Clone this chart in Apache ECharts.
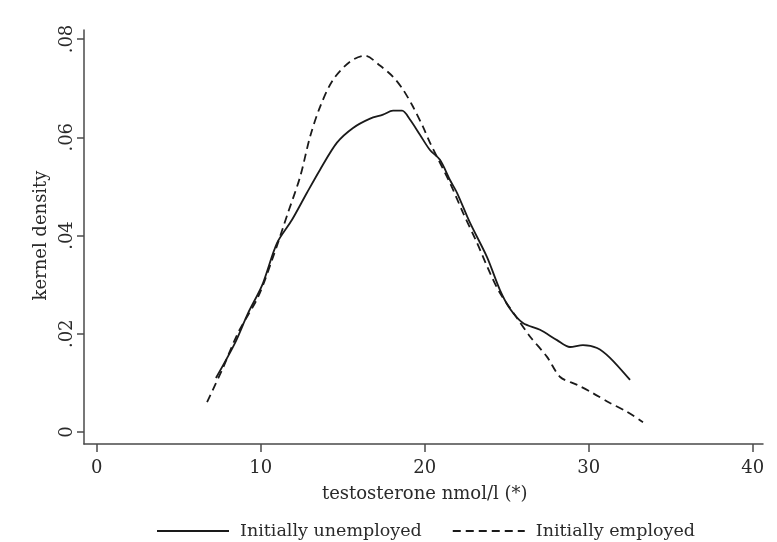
<!DOCTYPE html>
<html>
<head>
<meta charset="utf-8">
<script src="https://cdn.jsdelivr.net/npm/echarts@6/dist/echarts.min.js"></script>
<style>html,body{margin:0;padding:0;background:#fff;}#c{width:777px;height:542px;}</style>
</head>
<body>
<div id="c"></div>
<script>
var unemployedX = [7.27, 8.43, 9.23, 10.09, 11.0, 11.91, 12.82, 13.62, 14.65, 15.63, 16.67, 17.46, 18.07, 18.62, 19.10, 19.71, 20.32, 20.93, 21.54, 21.97, 22.76, 23.80, 24.59, 25.2, 25.99, 27.03, 28.07, 28.86, 29.65, 30.51, 31.30, 32.52];
var unemployedY = [0.0110, 0.0181, 0.0242, 0.0299, 0.0385, 0.0432, 0.0487, 0.0534, 0.0589, 0.0619, 0.0638, 0.0646, 0.0654, 0.0654, 0.0636, 0.0605, 0.0574, 0.0554, 0.0513, 0.0487, 0.0426, 0.0356, 0.0289, 0.0251, 0.0222, 0.0208, 0.0187, 0.0173, 0.0177, 0.0171, 0.0151, 0.0106];
var employedX = [6.73, 7.64, 8.62, 9.84, 10.69, 11.66, 12.40, 13.01, 13.62, 14.41, 15.45, 16.36, 17.27, 18.07, 18.68, 19.29, 19.90, 20.32, 21.54, 22.34, 23.19, 23.98, 24.59, 25.63, 26.43, 27.46, 28.26, 29.30, 30.26, 31.30, 32.34, 33.31];
var employedY = [0.0061, 0.0126, 0.0202, 0.0275, 0.0350, 0.0446, 0.0519, 0.0601, 0.0662, 0.0717, 0.0754, 0.0766, 0.0746, 0.0723, 0.0697, 0.0662, 0.0621, 0.0589, 0.0507, 0.0446, 0.0385, 0.0324, 0.0283, 0.0232, 0.0194, 0.0153, 0.0112, 0.0096, 0.0079, 0.0059, 0.0041, 0.0020];
var xTicks = [0, 10, 20, 30, 40];
var yTicks = [0, 0.02, 0.04, 0.06, 0.08];
var yTickLabels = ['0', '.02', '.04', '.06', '.08'];
var seriesNames = ['Initially unemployed', 'Initially employed'];

function pairs(xs, ys) { return xs.map(function (x, i) { return [x, ys[i]]; }); }

var font = 'DejaVu Serif';
var textCol = '#2a2a2a';
var axisCol = '#4a4a4a';
var xMin = xTicks[0], xMax = xTicks[xTicks.length - 1], xStep = xTicks[1] - xTicks[0];
var yMin = yTicks[0], yMax = yTicks[yTicks.length - 1], yStep = yTicks[1] - yTicks[0];
var hiddenAxis = function (g) { return {gridIndex: g, type: 'value', show: false, min: 0, max: 1}; };
var tickLine = {show: true, showMinLine: true, showMaxLine: true, lineStyle: {color: axisCol, width: 1.5, type: 'solid'}};

var chart = echarts.init(document.getElementById('c'), null, {renderer: 'canvas'});
chart.setOption({
  backgroundColor: '#fff',
  animation: false,
  grid: [
    {left: 96.7, right: 24.3, top: 39, bottom: 110, containLabel: false},   // data area
    {left: 84, right: 14, top: 30, bottom: 98, containLabel: false},        // axis frame lines
    {left: 96.7, right: 24.3, top: 444, bottom: 90, containLabel: false},   // x tick marks
    {left: 77, right: 693, top: 39, bottom: 110, containLabel: false}       // y tick marks
  ],
  legend: {
    data: seriesNames,
    top: 517,
    left: 151,
    itemWidth: 72,
    itemHeight: 14,
    itemGap: 30,
    textStyle: {fontFamily: font, fontSize: 17.5, color: textCol, padding: [0, 0, 0, 6]},
    itemStyle: {opacity: 0}
  },
  xAxis: [
    {
      gridIndex: 0, type: 'value', min: xMin, max: xMax, interval: xStep, offset: 12,
      name: 'testosterone nmol/l (*)', nameLocation: 'middle', nameGap: 41,
      nameTextStyle: {fontFamily: font, fontSize: 18, color: textCol},
      axisLine: {show: false, onZero: false},
      axisTick: {show: false},
      axisLabel: {fontFamily: font, fontSize: 18, color: textCol, margin: 15},
      splitLine: {show: false}
    },
    {
      gridIndex: 1, type: 'value', min: 0, max: 1,
      axisLine: {show: true, onZero: false, lineStyle: {color: axisCol, width: 1.5}},
      axisTick: {show: false}, axisLabel: {show: false}, splitLine: {show: false}
    },
    {
      gridIndex: 2, type: 'value', min: xMin, max: xMax, interval: xStep,
      axisLine: {show: false, onZero: false}, axisTick: {show: false}, axisLabel: {show: false},
      splitLine: tickLine
    },
    hiddenAxis(3)
  ],
  yAxis: [
    {
      gridIndex: 0, type: 'value', min: yMin, max: yMax, interval: yStep, offset: 12.7,
      name: 'kernel density', nameLocation: 'middle', nameGap: 27,
      nameTextStyle: {fontFamily: font, fontSize: 18, color: textCol},
      axisLine: {show: false, onZero: false},
      axisTick: {show: false},
      axisLabel: {rotate: 90, fontFamily: font, fontSize: 18, color: textCol, margin: 8,
        formatter: function (v) { var i = yTicks.findIndex(function (t) { return Math.abs(t - v) < 1e-9; }); return i >= 0 ? yTickLabels[i] : ''; }},
      splitLine: {show: false}
    },
    {
      gridIndex: 1, type: 'value', min: 0, max: 1,
      axisLine: {show: true, onZero: false, lineStyle: {color: axisCol, width: 1.5}},
      axisTick: {show: false}, axisLabel: {show: false}, splitLine: {show: false}
    },
    hiddenAxis(2),
    {
      gridIndex: 3, type: 'value', min: yMin, max: yMax, interval: yStep,
      axisLine: {show: false, onZero: false}, axisTick: {show: false}, axisLabel: {show: false},
      splitLine: tickLine
    }
  ],
  series: [
    {name: seriesNames[0], type: 'line', xAxisIndex: 0, yAxisIndex: 0, data: pairs(unemployedX, unemployedY), symbol: 'none', smooth: 0.3,
     lineStyle: {color: '#1a1a1a', width: 1.8, type: 'solid'}, itemStyle: {color: '#1a1a1a'}},
    {name: seriesNames[1], type: 'line', xAxisIndex: 0, yAxisIndex: 0, data: pairs(employedX, employedY), symbol: 'none', smooth: 0.3,
     lineStyle: {color: '#1a1a1a', width: 1.8, type: [8, 5]}, itemStyle: {color: '#1a1a1a'}}
  ]
});
</script>
</body>
</html>
